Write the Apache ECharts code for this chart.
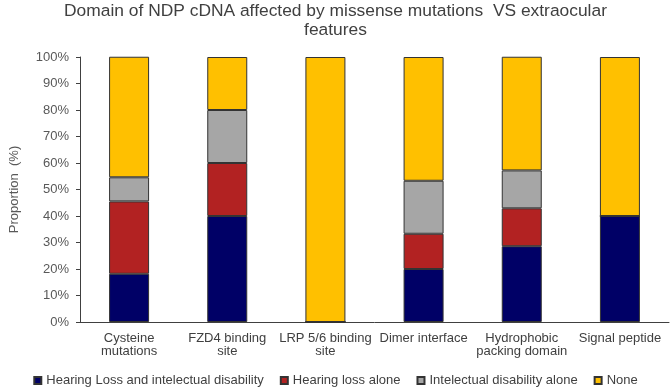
<!DOCTYPE html>
<html>
<head>
<meta charset="utf-8">
<script src="https://cdn.jsdelivr.net/npm/echarts@6/dist/echarts.min.js"></script>
<style>
  html, body { margin: 0; padding: 0; background: #fff; }
  #chart { width: 671px; height: 389px; }
</style>
</head>
<body>
<div id="chart"></div>
<script>
// categories (x axis)
var categories = ['Cysteine\nmutations', 'FZD4 binding\nsite', 'LRP 5/6 binding\nsite', 'Dimer interface', 'Hydrophobic\npacking domain', 'Signal peptide']
// proportions in %
var hearingIntellectual = [18.2, 40, 0, 20, 28.6, 40]
var hearingAlone = [27.3, 20, 0, 13.3, 14.3, 0]
var intellectualAlone = [9.1, 20, 0, 20, 14.3, 0]
var noneFeature = [45.5, 20, 100, 46.7, 42.9, 60]
var yTicks = [0, 10, 20, 30, 40, 50, 60, 70, 80, 90, 100]

var font = 'Arial, "Liberation Sans", sans-serif'

function makeSeries (name, data, color) {
  return {
    name: name,
    type: 'bar',
    stack: 'total',
    barWidth: 40,
    itemStyle: {
      color: color,
      borderColor: '#333',
      borderWidth: 1
    },
    data: data
  }
}

var chart = echarts.init(document.getElementById('chart'))
chart.setOption({
  animation: false,
  title: {
    text: 'Domain of NDP cDNA affected by missense mutations  VS extraocular\nfeatures',
    left: 'center',
    top: -3,
    textStyle: {
      fontFamily: font,
      fontSize: 17.4,
      fontWeight: 'normal',
      lineHeight: 19,
      color: '#404040'
    }
  },
  legend: {
    top: 369,
    left: 'center',
    itemWidth: 7,
    itemHeight: 7,
    itemGap: 16,
    icon: 'rect',
    textStyle: {
      fontFamily: font,
      fontSize: 13,
      color: '#404040'
    },
    data: ['Hearing Loss and intelectual disability', 'Hearing loss alone', 'Intelectual disability alone', 'None']
  },
  grid: {
    left: 65,
    right: 2,
    top: 57,
    bottom: 67
  },
  xAxis: {
    type: 'category',
    data: categories,
    axisLine: { lineStyle: { color: '#404040', width: 1 } },
    axisTick: { show: false },
    axisLabel: {
      interval: 0,
      margin: 10,
      fontFamily: font,
      fontSize: 13,
      lineHeight: 13,
      color: '#404040'
    }
  },
  yAxis: {
    type: 'value',
    min: yTicks[0],
    max: yTicks[yTicks.length - 1],
    interval: 10,
    name: 'Proportion  (%)',
    nameLocation: 'middle',
    nameRotate: 90,
    nameGap: 59,
    nameTextStyle: {
      fontFamily: font,
      fontSize: 13,
      color: '#595959'
    },
    axisLine: { show: true, lineStyle: { color: '#404040', width: 1 } },
    axisTick: { show: true, length: 4, lineStyle: { color: '#404040' } },
    splitLine: { show: false },
    axisLabel: {
      margin: 11,
      fontFamily: font,
      fontSize: 13,
      color: '#595959',
      formatter: '{value}%'
    }
  },
  series: [
    makeSeries('Hearing Loss and intelectual disability', hearingIntellectual, '#000066'),
    makeSeries('Hearing loss alone', hearingAlone, '#B22222'),
    makeSeries('Intelectual disability alone', intellectualAlone, '#A6A6A6'),
    makeSeries('None', noneFeature, '#FFC000')
  ]
})
</script>
</body>
</html>
